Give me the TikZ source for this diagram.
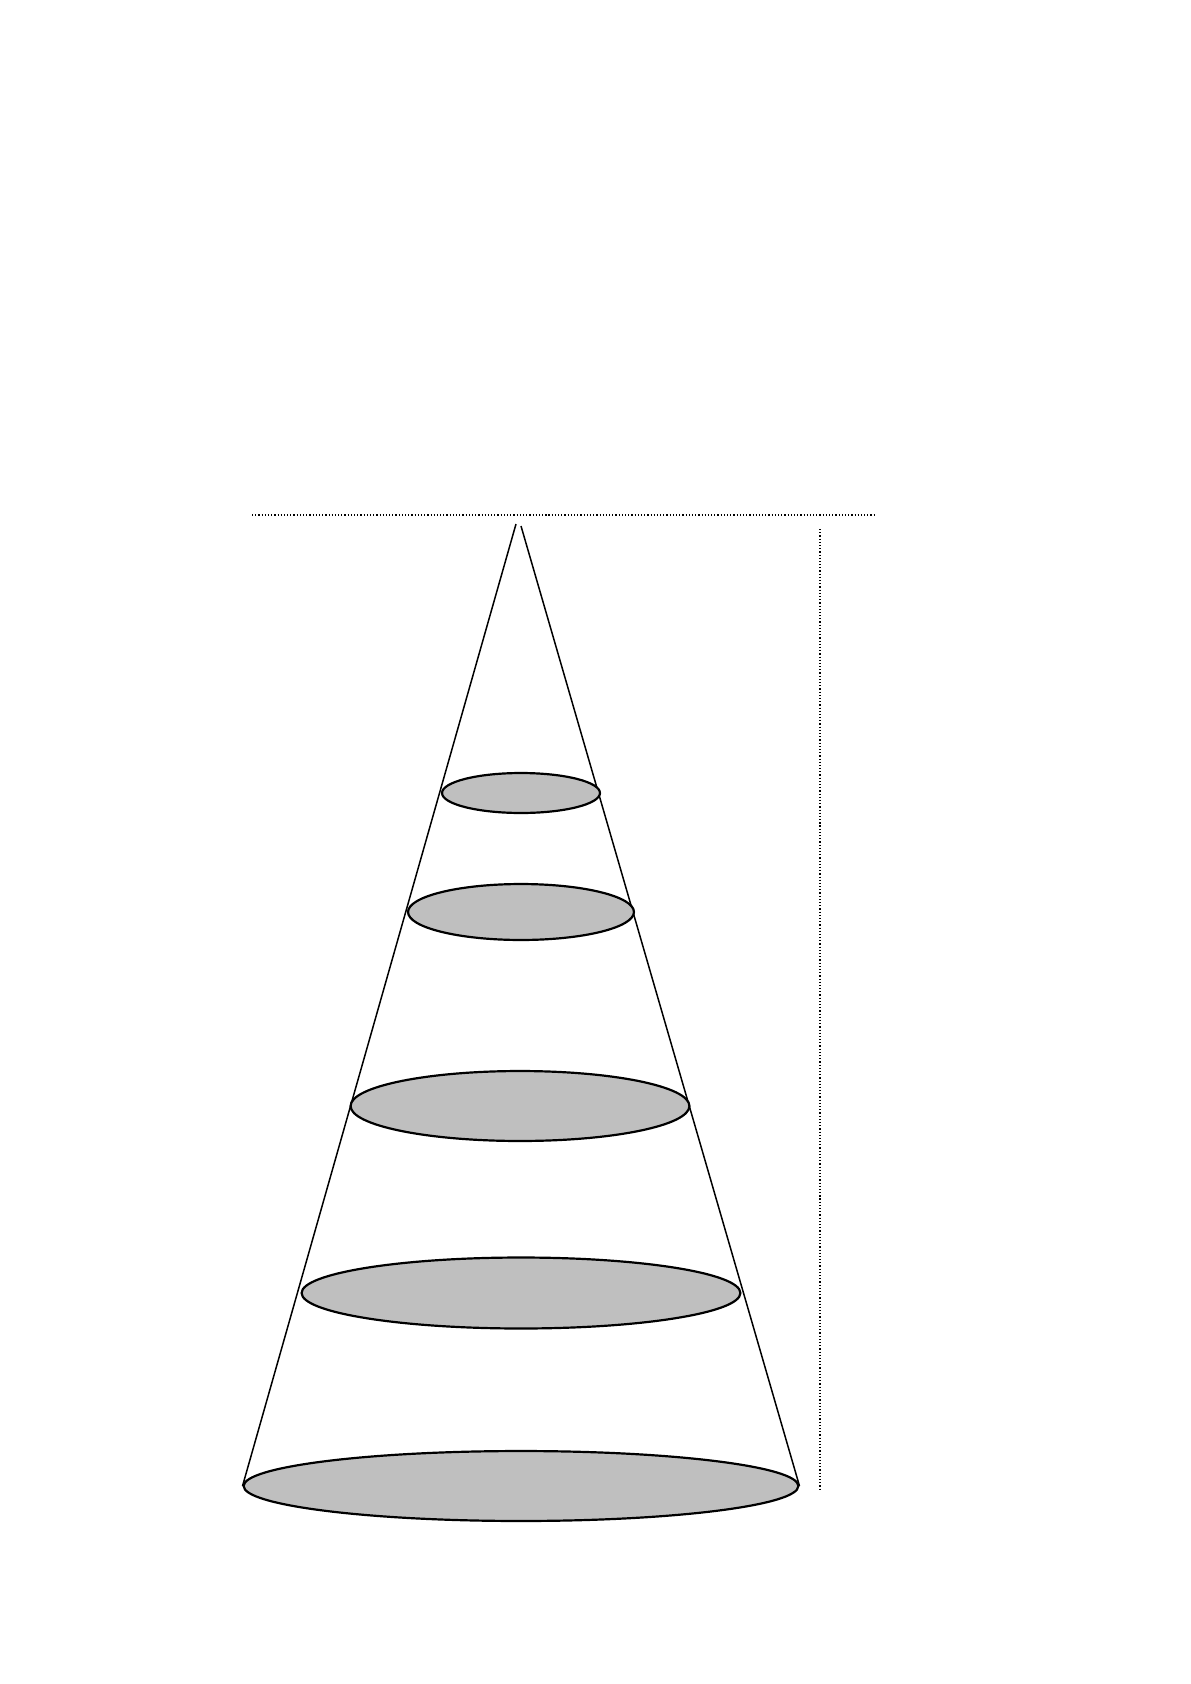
\documentclass[tikz,border=0pt]{standalone}
\usepackage{tikz}
\usetikzlibrary{shapes.geometric, backgrounds}

\begin{document}
\begin{tikzpicture}[
        x=0.017632cm, y=-0.017632cm,
        disc/.style={ellipse, draw=black, fill=black!25, line width=1.1pt, inner sep=0pt},
        side/.style={line width=0.75pt},
        guide/.style={densely dotted, line width=0.6pt},
        ]
      \useasboundingbox (0,0) rectangle (1191,1684);
      \node [disc, minimum width=2.786cm, minimum height=0.705cm] (disc1) at (521,793) {};
      \node [disc, minimum width=3.985cm, minimum height=0.987cm] (disc2) at (521,912) {};
      \node [disc, minimum width=5.977cm, minimum height=1.234cm] (disc3) at (520,1106) {};
      \node [disc, minimum width=7.740cm, minimum height=1.252cm] (disc4) at (521,1293) {};
      \node [disc, minimum width=9.786cm, minimum height=1.234cm] (base) at (521,1486) {};

      \coordinate (apex-l) at (516,524);
      \coordinate (apex-r) at (521,526);
      \coordinate (top-l) at (252,515);
      \coordinate (top-r) at (875,515);
      \coordinate (height-t) at (820,529);
      \coordinate (height-b) at (820,1491);

      \begin{scope}[on background layer]
        \draw[side] (apex-l) -- (base.west);
        \draw[side] (apex-r) -- (base.east);
      \end{scope}
      \draw[guide] (top-l) -- (top-r);
      \draw[guide] (height-t) -- (height-b);
    \end{tikzpicture}
\end{document}
